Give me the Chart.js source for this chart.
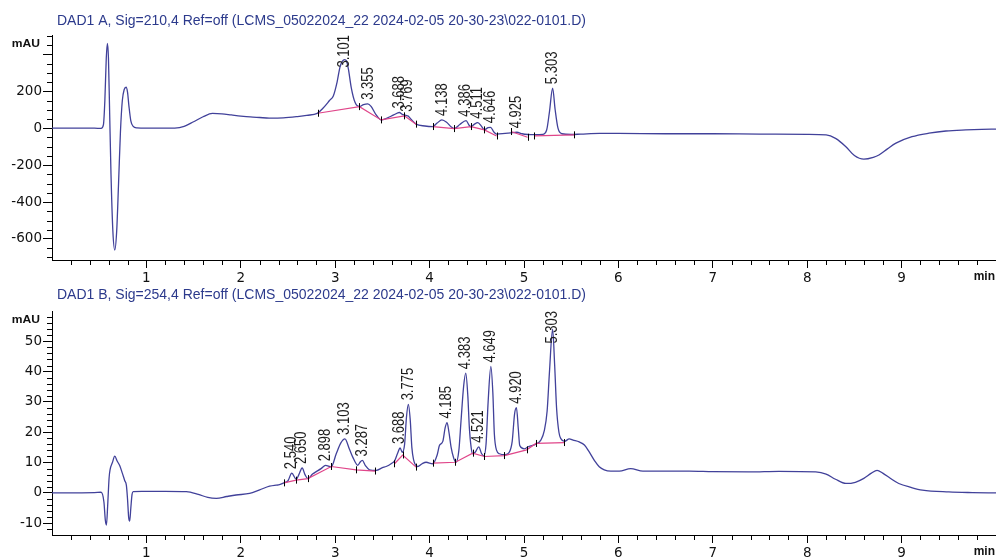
<!DOCTYPE html>
<html>
<head>
<meta charset="utf-8">
<script src="https://cdn.jsdelivr.net/npm/chart.js@4.4.0/dist/chart.umd.min.js"></script>
<style>
  html, body { margin: 0; padding: 0; background: #fff; }
  #wrap { position: relative; width: 996px; height: 557px; overflow: hidden; }
  canvas { position: absolute; left: 0; }
</style>
</head>
<body>
<div id="wrap">
  <canvas id="sigA" width="996" height="286" style="top:0px"></canvas>
  <canvas id="sigB" width="996" height="271" style="top:286px"></canvas>
</div>
<script>
// ---- signal titles ----
const titleA = 'DAD1 A, Sig=210,4 Ref=off (LCMS_05022024_22 2024-02-05 20-30-23\\022-0101.D)';
const titleB = 'DAD1 B, Sig=254,4 Ref=off (LCMS_05022024_22 2024-02-05 20-30-23\\022-0101.D)';

// ---- axis ticks ----
const timeTicks = [1, 2, 3, 4, 5, 6, 7, 8, 9];
const yTicksA = [-600, -400, -200, 0, 200, 400];
const yLabelsA = ['-600', '-400', '-200', '0', '200', ''];
const yTicksB = [-10, 0, 10, 20, 30, 40, 50];
const yLabelsB = ['-10', '0', '10', '20', '30', '40', '50'];

// ---- DAD1 A (210 nm) trace: [time min, mAU] ----
const traceA = [
  [0.00, 0], [0.45, 0], [0.52, -1], [0.545, 20], [0.56, 150], [0.575, 380], [0.587, 460],
  [0.598, 380], [0.61, 100], [0.625, -250], [0.645, -560], [0.665, -660], [0.685, -560],
  [0.705, -300], [0.725, -20], [0.745, 150], [0.765, 210], [0.785, 222], [0.80, 195],
  [0.815, 120], [0.835, 40], [0.86, 10], [0.90, 2], [1.00, 0], [1.30, 1], [1.40, 10],
  [1.50, 35], [1.60, 62], [1.70, 80], [1.80, 78], [1.90, 72], [2.00, 66], [2.10, 61],
  [2.20, 58], [2.30, 55], [2.45, 56], [2.60, 63], [2.70, 70], [2.81, 80], [2.87, 108],
  [2.94, 150], [2.98, 175], [3.02, 250], [3.05, 330], [3.075, 362], [3.10, 372], [3.12, 365],
  [3.14, 320], [3.17, 220], [3.21, 140], [3.257, 117], [3.30, 128], [3.345, 132], [3.38, 118],
  [3.43, 75], [3.487, 45], [3.55, 55], [3.62, 72], [3.68, 85], [3.71, 75], [3.75, 69],
  [3.77, 67], [3.80, 50], [3.857, 22], [3.95, 12], [4.033, 9], [4.08, 28], [4.13, 45],
  [4.18, 32], [4.23, 6], [4.262, -2], [4.32, 20], [4.386, 41], [4.42, 15], [4.439, 8],
  [4.475, 22], [4.511, 30], [4.55, 10], [4.58, -8], [4.62, 3], [4.646, 5], [4.68, -20],
  [4.71, -32], [4.80, -28], [4.86, -25], [4.925, -22], [4.98, -30], [5.04, -34], [5.11, -35],
  [5.20, -33], [5.24, -10], [5.27, 90], [5.303, 217], [5.33, 100], [5.36, 0], [5.40, -30],
  [5.50, -34], [5.60, -32], [5.80, -28], [6.00, -28], [6.50, -30], [7.00, -30], [7.50, -32],
  [8.00, -33], [8.20, -36], [8.30, -55], [8.41, -100], [8.50, -148], [8.60, -168], [8.70, -158],
  [8.76, -145], [8.85, -112], [8.94, -81], [9.11, -46], [9.29, -27], [9.47, -15], [9.68, -9],
  [9.85, -6], [10.0, -5]
];

// integration baselines for A, one array per baseline run
const baselinesA = [
  [[2.816, 81], [3.257, 117], [3.487, 45], [3.733, 67], [3.857, 22]],
  [[4.033, 9], [4.262, -2], [4.439, 9], [4.580, -9], [4.710, -42]],
  [[4.862, -18], [5.038, -49]],
  [[5.109, -42], [5.532, -36]]
];

// peak retention times and apex heights for A
const peakRtA = [3.101, 3.355, 3.688, 3.769, 4.138, 4.386, 4.511, 4.646, 4.925, 5.303];
const peakHeightA = [372, 132, 85, 67, 45, 41, 30, 5, -22, 217];

// ---- DAD1 B (254 nm) trace: [time min, mAU] ----
const traceB = [
  [0.00, 0], [0.45, 0.1], [0.52, 0.2], [0.55, -3], [0.565, -9], [0.577, -10.6], [0.59, -4],
  [0.605, 5], [0.615, 7.6], [0.64, 10], [0.665, 12.1], [0.69, 10.5], [0.717, 9], [0.745, 6.5],
  [0.77, 4.1], [0.788, 2.5], [0.80, -2], [0.812, -8], [0.823, -9.3], [0.835, -5], [0.848, -0.5],
  [0.86, 0.4], [0.95, 0.5], [1.20, 0.5], [1.423, 0.4], [1.55, -0.5], [1.65, -1.5], [1.741, -1.8],
  [1.85, -1.2], [1.95, -0.7], [2.093, -0.2], [2.20, 1.0], [2.305, 2.2], [2.357, 2.5], [2.40, 2.6],
  [2.456, 3.3], [2.50, 4.0], [2.540, 6.5], [2.587, 4.5], [2.615, 6.0], [2.650, 8.2], [2.68, 6.0],
  [2.71, 4.7], [2.76, 6.2], [2.80, 7.0], [2.85, 8.0], [2.898, 9.1], [2.958, 8.6], [3.011, 12.9],
  [3.06, 16.5], [3.103, 17.8], [3.15, 14.5], [3.186, 11.8], [3.239, 9.1], [3.265, 10.2],
  [3.287, 10.7], [3.32, 9.0], [3.363, 7.6], [3.434, 7.4], [3.50, 8.3], [3.54, 8.7], [3.60, 9.8],
  [3.628, 10.5], [3.660, 13.0], [3.688, 14.8], [3.71, 13.4], [3.735, 16], [3.755, 25],
  [3.775, 29.2], [3.795, 24], [3.812, 15], [3.83, 11], [3.874, 8.7], [3.92, 9.6], [3.963, 10.1],
  [4.033, 9.6], [4.08, 12.5], [4.104, 15.6], [4.14, 17], [4.165, 21.5], [4.185, 23.2],
  [4.205, 20], [4.228, 15.0], [4.255, 11.5], [4.280, 10.1], [4.31, 14.0], [4.333, 23.8],
  [4.36, 35], [4.383, 39.5], [4.405, 32], [4.421, 21.6], [4.44, 15], [4.456, 12.9],
  [4.485, 13.5], [4.521, 15.2], [4.55, 13.0], [4.575, 12.2], [4.598, 16.1], [4.62, 30],
  [4.649, 41.7], [4.67, 33], [4.686, 19.4], [4.71, 14], [4.739, 12.9], [4.80, 12.6],
  [4.844, 13.4], [4.875, 17], [4.90, 26], [4.920, 28.1], [4.94, 21], [4.955, 15.6],
  [5.003, 14.5], [5.05, 15.3], [5.127, 16.1], [5.18, 17.5], [5.215, 20.5], [5.245, 27],
  [5.27, 40], [5.303, 54], [5.325, 42], [5.345, 28], [5.37, 20], [5.392, 17.8], [5.43, 17.0],
  [5.479, 17.8], [5.52, 17.4], [5.585, 16.8], [5.64, 15.8], [5.691, 13.5], [5.75, 10.5],
  [5.797, 8.6], [5.85, 7.6], [5.92, 7.2], [6.01, 7.2], [6.13, 8.0], [6.26, 7.2], [6.50, 7.2],
  [6.75, 7.2], [7.00, 7.0], [7.39, 6.9], [7.70, 7.1], [8.09, 6.9], [8.20, 6.2], [8.30, 4.5],
  [8.41, 3.1], [8.51, 3.5], [8.60, 4.8], [8.68, 6.5], [8.74, 7.4], [8.80, 6.5], [8.88, 4.8],
  [8.97, 3.1], [9.10, 1.8], [9.22, 0.9], [9.50, 0.3], [9.75, 0.1], [10.0, 0]
];

// integration baselines for B
const baselinesB = [
  [[2.456, 3.3], [2.587, 4.2], [2.710, 4.7], [2.958, 8.7], [3.222, 7.6], [3.426, 7.2]],
  [[3.628, 9.6], [3.715, 12.5], [3.857, 8.5]],
  [[4.033, 9.8], [4.273, 10.1], [4.456, 13.1], [4.580, 12.0], [4.792, 12.3], [5.028, 14.2],
   [5.127, 16.3], [5.427, 16.6]]
];

// peak retention times and apex heights for B
const peakRtB = [2.540, 2.650, 2.898, 3.103, 3.287, 3.688, 3.775, 4.185, 4.383, 4.521, 4.649, 4.920, 5.303];
const peakHeightB = [6.5, 8.2, 9.1, 17.8, 10.7, 14.8, 29.2, 23.2, 39.5, 15.2, 41.7, 28.1, 54];

// ---- styling ----
const TRACE = '#41419a';
const BASE = '#e0468a';
const NAVY = '#2c3a8c';
const INK = '#111111';
const LABEL_STRETCH = 1.2;

function toXY(pairs) { return pairs.map(p => ({ x: p[0], y: p[1] })); }

// baseline runs joined into one dataset, with a gap point between runs
function joinRuns(runs) {
  const out = [];
  runs.forEach((run, i) => {
    if (i > 0) {
      const prevEnd = runs[i - 1][runs[i - 1].length - 1][0];
      out.push({ x: (prevEnd + run[0][0]) / 2, y: null });
    }
    run.forEach(p => out.push({ x: p[0], y: p[1] }));
  });
  return out;
}

// axis decorations, baseline marks, peak labels and texts
const chromDecor = {
  id: 'chromDecor',
  afterDraw(chart, args, o) {
    const { ctx, chartArea: a } = chart;
    const x = chart.scales.x, y = chart.scales.y;
    ctx.save();
    ctx.strokeStyle = '#000';
    ctx.lineWidth = 1;
    ctx.beginPath();
    // minor time ticks
    for (let k = 1; ; k++) {
      const v = k * o.xMinor;
      if (v >= x.max - 1e-9) break;
      if (Math.abs(v - Math.round(v)) < 1e-6) continue;
      const px = Math.round(x.getPixelForValue(v)) + 0.5;
      ctx.moveTo(px, a.bottom);
      ctx.lineTo(px, a.bottom + 5);
    }
    // minor signal ticks
    for (let v = Math.ceil(y.min / o.yMinor) * o.yMinor; v <= y.max; v += o.yMinor) {
      const r = v / o.yMajor;
      if (Math.abs(r - Math.round(r)) < 1e-6) continue;
      const py = Math.round(y.getPixelForValue(v)) + 0.5;
      ctx.moveTo(a.left - 5, py);
      ctx.lineTo(a.left, py);
    }
    ctx.stroke();

    // baseline start/stop marks
    ctx.beginPath();
    o.baselines.forEach(run => run.forEach(p => {
      const px = Math.round(x.getPixelForValue(p[0])) + 0.5;
      const py = y.getPixelForValue(p[1]);
      ctx.moveTo(px, py - 3.5);
      ctx.lineTo(px, py + 3.5);
    }));
    ctx.stroke();

    // peak retention time labels
    ctx.fillStyle = '#1c1c1c';
    ctx.font = '13px "Liberation Sans", Arial, sans-serif';
    ctx.textAlign = 'left';
    ctx.textBaseline = 'middle';
    o.peakRt.forEach((rt, i) => {
      const label = rt.toFixed(3);
      const len = ctx.measureText(label).width;
      const px = x.getPixelForValue(rt);
      let py = y.getPixelForValue(o.peakHeight[i]) - 4;
      if (py - len < a.top) py = a.top + len;
      ctx.save();
      ctx.translate(px, py);
      ctx.scale(LABEL_STRETCH, 1);
      ctx.rotate(-Math.PI / 2);
      ctx.fillText(label, 0, 0);
      ctx.restore();
    });

    // signal title
    ctx.save();
    ctx.fillStyle = NAVY;
    ctx.font = '14px "Liberation Sans", Arial, sans-serif';
    ctx.textAlign = 'left';
    ctx.textBaseline = 'alphabetic';
    ctx.fillText(o.title, 57, o.titleY);
    ctx.restore();

    // unit label at top of the signal axis
    ctx.save();
    ctx.translate(40, a.top + 12);
    ctx.scale(1.1, 1);
    ctx.fillStyle = INK;
    ctx.font = 'bold 11px "Liberation Sans", Arial, sans-serif';
    ctx.textAlign = 'right';
    ctx.textBaseline = 'alphabetic';
    ctx.fillText('mAU', 0, 0);
    ctx.restore();

    // time unit at the end of the time axis
    ctx.save();
    ctx.fillStyle = INK;
    ctx.font = 'bold 12px "Liberation Sans", Arial, sans-serif';
    ctx.textAlign = 'right';
    ctx.textBaseline = 'top';
    ctx.fillText('min', a.right - 1, a.bottom + 11);
    ctx.restore();

    ctx.restore();
  }
};

function makeChart(id, cfg) {
  return new Chart(document.getElementById(id), {
    type: 'line',
    data: {
      datasets: [
        { data: joinRuns(cfg.baselines), borderColor: BASE, borderWidth: 1.2, pointRadius: 0, tension: 0, spanGaps: false },
        { data: toXY(cfg.trace), borderColor: TRACE, borderWidth: 1.3, pointRadius: 0, cubicInterpolationMode: 'monotone' }
      ]
    },
    options: {
      responsive: false,
      animation: false,
      devicePixelRatio: 1,
      events: [],
      layout: { padding: { top: cfg.top, left: 0, right: 0, bottom: 0 } },
      plugins: {
        legend: { display: false },
        tooltip: { enabled: false },
        chromDecor: {
          title: cfg.title, titleY: cfg.titleY, xMinor: 0.2, yMinor: cfg.yMinor, yMajor: cfg.yMajor,
          baselines: cfg.baselines, peakRt: cfg.peakRt, peakHeight: cfg.peakHeight
        }
      },
      scales: {
        x: {
          type: 'linear', min: 0, max: 10,
          afterBuildTicks: s => { s.ticks = timeTicks.map(v => ({ value: v })); },
          afterFit: s => { s.height = cfg.xHeight; },
          ticks: { autoSkip: false, maxRotation: 0, padding: 2, color: INK,
                   font: { family: 'DejaVu Sans', size: 13.5 }, callback: v => String(v) },
          grid: { drawOnChartArea: false, drawTicks: true, tickLength: 8, color: '#000', lineWidth: 1 },
          border: { display: true, color: '#000', width: 1 }
        },
        y: {
          type: 'linear', min: cfg.yMin, max: cfg.yMax,
          afterBuildTicks: s => { s.ticks = cfg.yTicks.map(v => ({ value: v })); },
          afterFit: s => { s.width = 52; },
          ticks: { autoSkip: false, padding: 1, color: INK,
                   font: { family: 'DejaVu Sans', size: 13.5 },
                   callback: (v) => cfg.yLabels[cfg.yTicks.indexOf(v)] },
          grid: { drawOnChartArea: false, drawTicks: true, tickLength: 9, color: '#000', lineWidth: 1 },
          border: { display: true, color: '#000', width: 1 }
        }
      }
    },
    plugins: [chromDecor]
  });
}

makeChart('sigA', {
  title: titleA, titleY: 24.5, top: 35, xHeight: 26,
  yMin: -714, yMax: 505, yTicks: yTicksA, yLabels: yLabelsA, yMinor: 50, yMajor: 200,
  trace: traceA, baselines: baselinesA, peakRt: peakRtA, peakHeight: peakHeightA
});

makeChart('sigB', {
  title: titleB, titleY: 12.5, top: 25, xHeight: 22,
  yMin: -13.9, yMax: 60, yTicks: yTicksB, yLabels: yLabelsB, yMinor: 2, yMajor: 10,
  trace: traceB, baselines: baselinesB, peakRt: peakRtB, peakHeight: peakHeightB
});
</script>
</body>
</html>
